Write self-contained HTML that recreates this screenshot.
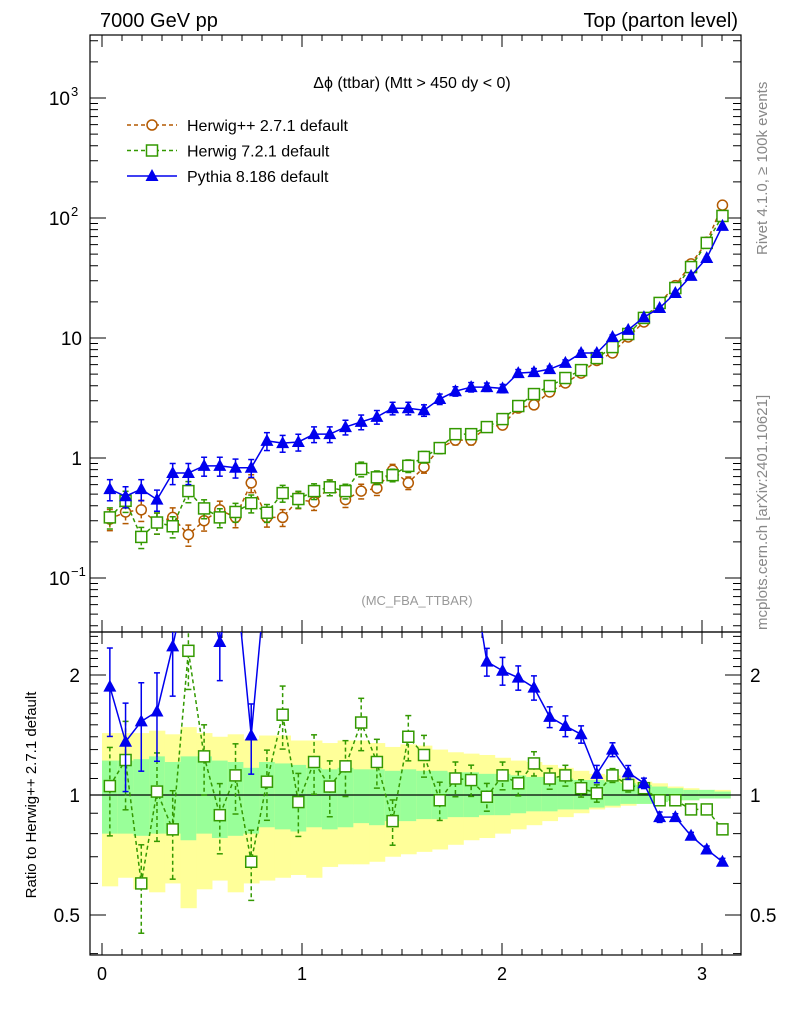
<!DOCTYPE html>
<html><head><meta charset="utf-8"><style>
body{margin:0;background:#fff;}
svg{display:block;font-family:"Liberation Sans",sans-serif;}
</style></head><body>
<svg id="c" width="786" height="1024" xmlns="http://www.w3.org/2000/svg">
<text x="100" y="27" font-size="20">7000 GeV pp</text>
<text x="738" y="27" font-size="20" text-anchor="end">Top (parton level)</text>
<text x="412" y="88" font-size="16" text-anchor="middle">Δϕ (ttbar) (Mtt &gt; 450 dy &lt; 0)</text>
<text x="417" y="605" font-size="13" fill="#999" text-anchor="middle">(MC_FBA_TTBAR)</text>
<text transform="translate(767,255) rotate(-90)" font-size="15" fill="#888">Rivet 4.1.0, ≥ 100k events</text>
<text transform="translate(767,630) rotate(-90)" font-size="15" fill="#888">mcplots.cern.ch [arXiv:2401.10621]</text>
<text transform="translate(36,795) rotate(-90)" font-size="15" text-anchor="middle">Ratio to Herwig++ 2.7.1 default</text>
<g id="bands"></g><g id="axes"></g><g id="marks"></g><g id="legend"></g>
</svg>
<script>
const herwigpp=[0.31,0.355,0.37,0.29,0.32,0.23,0.30,0.37,0.32,0.62,0.32,0.32,0.45,0.43,0.57,0.45,0.53,0.56,0.79,0.62,0.84,1.21,1.41,1.41,1.81,1.88,2.61,2.77,3.55,4.22,5.1,6.5,7.5,10.2,13.6,19.6,27.3,41.5,63,128];
const herwig7=[0.32,0.44,0.22,0.29,0.27,0.53,0.38,0.32,0.355,0.42,0.35,0.51,0.455,0.53,0.57,0.53,0.81,0.69,0.72,0.86,1.02,1.21,1.58,1.58,1.81,2.11,2.71,3.41,3.98,4.64,5.4,6.8,8.4,10.8,14.7,19.6,26.1,39,62,104];
const pythia=[0.55,0.48,0.55,0.45,0.75,0.75,0.86,0.86,0.83,0.83,1.39,1.33,1.36,1.58,1.58,1.81,2.0,2.2,2.6,2.6,2.5,3.1,3.6,3.9,3.9,3.8,5.1,5.2,5.5,6.2,7.5,7.5,10.2,11.7,14.9,17.8,23.7,32.9,46.4,86];
const relErr=[0.2,0.2,0.2,0.2,0.2,0.2,0.18,0.18,0.18,0.17,0.17,0.16,0.16,0.15,0.15,0.14,0.14,0.13,0.12,0.12,0.11,0.1,0.09,0.09,0.08,0.08,0.07,0.07,0.06,0.06,0.05,0.05,0.04,0.04,0.04,0.03,0.03,0.02,0.02,0.02];
const ratioH7=[1.053,1.224,0.60,1.02,0.82,2.30,1.25,0.89,1.12,0.68,1.08,1.59,0.96,1.21,1.05,1.18,1.52,1.21,0.86,1.40,1.26,0.97,1.10,1.09,0.99,1.12,1.07,1.20,1.10,1.12,1.04,1.01,1.12,1.06,1.04,0.97,0.97,0.92,0.92,0.82];
const ratioPy=[1.87,1.36,1.53,1.62,2.36,3.6,3.5,2.42,3.6,1.41,3.8,3.9,3.8,3.9,3.8,4.0,3.8,3.7,3.8,3.7,3.7,3.7,3.7,3.8,2.16,2.05,1.97,1.86,1.57,1.49,1.42,1.13,1.30,1.14,1.07,0.88,0.88,0.79,0.73,0.68];
const ratioErr=[0.25,0.25,0.25,0.25,0.25,0.2,0.2,0.2,0.2,0.2,0.2,0.18,0.18,0.17,0.16,0.16,0.15,0.14,0.13,0.13,0.12,0.11,0.1,0.09,0.08,0.08,0.07,0.07,0.06,0.06,0.05,0.05,0.04,0.04,0.03,0.03,0.02,0.02,0.02,0.02];
const greenUp=[1.22,1.22,1.23,1.25,1.21,1.25,1.25,1.22,1.21,1.17,1.21,1.20,1.19,1.17,1.16,1.17,1.16,1.16,1.15,1.16,1.15,1.15,1.14,1.14,1.13,1.13,1.12,1.11,1.11,1.10,1.09,1.09,1.08,1.07,1.06,1.05,1.04,1.03,1.03,1.02];
const greenDn=[0.80,0.80,0.79,0.80,0.80,0.77,0.80,0.78,0.79,0.80,0.83,0.82,0.81,0.83,0.82,0.83,0.85,0.84,0.86,0.86,0.87,0.87,0.88,0.88,0.89,0.89,0.90,0.91,0.91,0.92,0.92,0.93,0.94,0.95,0.95,0.96,0.97,0.97,0.98,0.98];
const yellowUp=[1.43,1.43,1.43,1.45,1.42,1.48,1.43,1.40,1.42,1.38,1.41,1.41,1.37,1.37,1.35,1.37,1.37,1.35,1.32,1.34,1.33,1.30,1.28,1.27,1.26,1.24,1.22,1.21,1.19,1.17,1.15,1.13,1.12,1.10,1.08,1.07,1.05,1.04,1.03,1.03];
const yellowDn=[0.59,0.62,0.58,0.57,0.60,0.52,0.58,0.61,0.57,0.60,0.61,0.62,0.63,0.62,0.66,0.67,0.67,0.68,0.70,0.71,0.72,0.73,0.75,0.77,0.78,0.80,0.82,0.84,0.86,0.88,0.90,0.92,0.93,0.94,0.95,0.96,0.97,0.97,0.98,0.98];
const xTicks=["0","1","2","3"];

const NS="http://www.w3.org/2000/svg";
const L=90,R=741,T=35,M=632,B=955;
const N=herwigpp.length,W=Math.PI/N;
const X=v=>102+200*v;
const Y=v=>458-120*Math.log10(v);
const RY=v=>795-398.6*Math.log10(v);
function mk(p,tag,at){const e=document.createElementNS(NS,tag);for(const k in at)e.setAttribute(k,at[k]);p.appendChild(e);return e;}
const bands=document.getElementById('bands'),axes=document.getElementById('axes'),marks=document.getElementById('marks'),leg=document.getElementById('legend');

for(let i=0;i<N;i++){
 const x0=X(i*W),x1=X((i+1)*W);
 let r=mk(bands,'rect',{x:x0,y:RY(yellowUp[i]),width:x1-x0+0.5,height:RY(yellowDn[i])-RY(yellowUp[i]),fill:'#ffff99'});
 
 
 r=mk(bands,'rect',{x:x0,y:RY(greenUp[i]),width:x1-x0+0.5,height:RY(greenDn[i])-RY(greenUp[i]),fill:'#99ff99'});
 
 
}
let f=mk(axes,'rect',{x:L,y:T,width:R-L,height:M-T,fill:'none',stroke:'#000','stroke-width':1.2});


f=mk(axes,'rect',{x:L,y:M,width:R-L,height:B-M,fill:'none',stroke:'#000','stroke-width':1.2});


let ref=mk(axes,'line',{x1:L,x2:R,y1:RY(1),y2:RY(1),stroke:'#000','stroke-width':1.2});


for(let k=0;k<=31;k++){
 const v=k/10,x=X(v),maj=k%10===0,l=maj?12:6;
 for(const [y,d] of [[T,1],[M,-1],[M,1],[B,-1]]) mk(axes,'line',{x1:x,x2:x,y1:y,y2:y+d*l,stroke:'#000'});
}
xTicks.forEach((t,i)=>{const e=mk(axes,'text',{x:X(+t),y:980,'font-size':18,'text-anchor':'middle'});e.textContent=t;
 
 });
for(let d=-2;d<=3;d++){for(let m=1;m<=9;m++){const v=m*Math.pow(10,d),y=Y(v);if(y<T||y>M)continue;const l=m===1?16:8;
 mk(axes,'line',{x1:L,x2:L+l,y1:y,y2:y,stroke:'#000'});mk(axes,'line',{x1:R,x2:R-l,y1:y,y2:y,stroke:'#000'});}}
[["10","3"],["10","2"],["10",""],["1",""],["10","−1"]].forEach((p,i)=>{
 const v=[1000,100,10,1,0.1][i],y=Y(v)+7;
 const e=mk(axes,'text',{x:p[1]?70:82,y:y,'font-size':19,'text-anchor':'end'});e.textContent=p[0];
 
 
 if(p[1]){const s=mk(axes,'text',{x:71,y:y-9,'font-size':13});s.textContent=p[1];}
});
for(let k=4;k<=25;k++){const v=k/10,y=RY(v);if(y<M||y>B)continue;const maj=(k===5||k===10||k===20),l=maj?16:8;
 mk(axes,'line',{x1:L,x2:L+l,y1:y,y2:y,stroke:'#000'});mk(axes,'line',{x1:R,x2:R-l,y1:y,y2:y,stroke:'#000'});}
[["2",2],["1",1],["0.5",0.5]].forEach(p=>{
 let e=mk(axes,'text',{x:80,y:RY(p[1])+7,'font-size':19,'text-anchor':'end'});e.textContent=p[0];
 
 
 e=mk(axes,'text',{x:750,y:RY(p[1])+7,'font-size':19});e.textContent=p[0];
 
 
});

const cx=i=>X((i+0.5)*W);
function series(g,vals,errs,yf,color,dash,marker,top){
 const pts=vals.map((v,i)=>[cx(i),yf(v)]);
 const cp=document.createElementNS(NS,'g');g.appendChild(cp);
 cp.setAttribute('clip-path',top===T?'url(#cm)':'url(#cr)');
 const pl=mk(cp,'polyline',{points:pts.map(p=>p.join(',')).join(' '),fill:'none',stroke:color,'stroke-width':1.5,'stroke-dasharray':dash||'none'});
 
 
 vals.forEach((v,i)=>{
  const x=cx(i),y1=yf(v*(1+errs[i])),y2=yf(v*(1-errs[i]));
  mk(cp,'line',{x1:x,x2:x,y1:y1,y2:y2,stroke:color,'stroke-width':1.5,'stroke-dasharray':dash||'none'});
  mk(cp,'line',{x1:x-3,x2:x+3,y1:y1,y2:y1,stroke:color,'stroke-width':1.5});
  mk(cp,'line',{x1:x-3,x2:x+3,y1:y2,y2:y2,stroke:color,'stroke-width':1.5});
  const y=yf(v);let m;
  if(marker==='c')m=mk(cp,'circle',{cx:x,cy:y,r:5,fill:'#fff',stroke:color,'stroke-width':1.5});
  else if(marker==='s')m=mk(cp,'rect',{x:x-5.5,y:y-5.5,width:11,height:11,fill:'#fff',stroke:color,'stroke-width':1.5});
  else m=mk(cp,'polygon',{points:`${x},${y-7} ${x-6.5},${y+5} ${x+6.5},${y+5}`,fill:color});
  
  
 });
}
const defs=mk(document.getElementById('c'),'defs',{});
mk(mk(defs,'clipPath',{id:'cm'}),'rect',{x:L,y:T,width:R-L,height:M-T});
mk(mk(defs,'clipPath',{id:'cr'}),'rect',{x:L,y:M,width:R-L,height:B-M});
series(marks,herwigpp,relErr,Y,'#b35900','4,3','c',T);
series(marks,herwig7,relErr,Y,'#339900','4,3','s',T);
series(marks,pythia,relErr,Y,'#0000ee',null,'t',T);
series(marks,ratioH7,ratioErr,RY,'#339900','4,3','s',M);
series(marks,ratioPy,ratioErr,RY,'#0000ee',null,'t',M);

[["Herwig++ 2.7.1 default",'#b35900','4,3','c'],["Herwig 7.2.1 default",'#339900','4,3','s'],["Pythia 8.186 default",'#0000ee',null,'t']].forEach((e,i)=>{
 const y=125+i*25.5;
 const g=mk(leg,'g',{});
 
 
 mk(g,'line',{x1:127,x2:177,y1:y,y2:y,stroke:e[1],'stroke-width':1.5,'stroke-dasharray':e[2]||'none'});
 const x=152;
 if(e[3]==='c')mk(g,'circle',{cx:x,cy:y,r:5,fill:'#fff',stroke:e[1],'stroke-width':1.5});
 else if(e[3]==='s')mk(g,'rect',{x:x-5.5,y:y-5.5,width:11,height:11,fill:'#fff',stroke:e[1],'stroke-width':1.5});
 else mk(g,'polygon',{points:`${x},${y-7} ${x-6.5},${y+5} ${x+6.5},${y+5}`,fill:e[1]});
 const t=mk(g,'text',{x:187,y:y+6,'font-size':16});t.textContent=e[0];
});
</script>
</body></html>
